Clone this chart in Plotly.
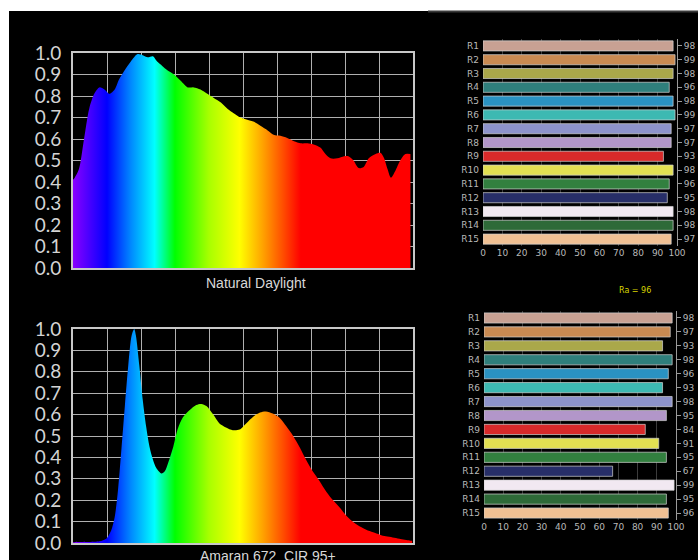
import plotly.graph_objects as go

# ---------------- data ----------------
wl_daylight = [380, 382, 387, 393, 399, 405, 411, 417, 423, 429, 434, 440, 448, 456, 462, 468, 474,
               479, 485, 491, 499, 507, 515, 522, 530, 538, 546, 554, 562, 569, 577, 585, 593, 601,
               609, 616, 624, 632, 640, 648, 656, 663, 671, 677, 683, 691, 699, 704, 710, 716, 722,
               728, 736, 742, 746, 750, 754, 759, 765, 771, 777]
rel_daylight = [0.41, 0.42, 0.46, 0.60, 0.74, 0.81, 0.84, 0.83, 0.81, 0.83, 0.876, 0.915, 0.96, 0.995,
                0.99, 0.98, 0.985, 0.96, 0.94, 0.92, 0.90, 0.87, 0.84, 0.84, 0.83, 0.81, 0.79, 0.77,
                0.74, 0.72, 0.70, 0.69, 0.68, 0.66, 0.64, 0.62, 0.615, 0.605, 0.59, 0.58, 0.58, 0.575,
                0.56, 0.53, 0.51, 0.51, 0.52, 0.52, 0.50, 0.465, 0.47, 0.51, 0.53, 0.535, 0.51, 0.46,
                0.42, 0.45, 0.50, 0.53, 0.53]

wl_amaran = [380, 382, 411, 419, 425, 429, 433, 437, 441, 445, 449, 452, 454, 458, 462, 466, 470, 474,
             478, 484, 488, 492, 498, 503, 509, 517, 525, 531, 537, 545, 552, 560, 568, 576, 584, 592,
             600, 607, 615, 623, 631, 639, 647, 654, 662, 670, 678, 686, 694, 701, 709, 717, 725, 733,
             741, 748, 756, 764, 776, 779]
rel_amaran = [0.004, 0.004, 0.008, 0.02, 0.06, 0.12, 0.25, 0.44, 0.64, 0.83, 0.97, 1.0, 0.97, 0.83,
              0.67, 0.545, 0.45, 0.39, 0.35, 0.325, 0.335, 0.375, 0.45, 0.53, 0.585, 0.62, 0.645, 0.65,
              0.64, 0.60, 0.56, 0.54, 0.527, 0.53, 0.56, 0.59, 0.61, 0.615, 0.605, 0.585, 0.545, 0.50,
              0.445, 0.39, 0.335, 0.29, 0.24, 0.20, 0.165, 0.13, 0.10, 0.078, 0.062, 0.05, 0.039,
              0.031, 0.026, 0.02, 0.012, 0.01]

r_labels = ["R1", "R2", "R3", "R4", "R5", "R6", "R7", "R8", "R9", "R10", "R11", "R12", "R13", "R14", "R15"]
r_daylight = [98, 99, 98, 96, 98, 99, 97, 97, 93, 98, 96, 95, 98, 98, 97]
r_amaran = [98, 97, 93, 98, 96, 93, 98, 95, 84, 91, 95, 67, 99, 95, 96]
r_colors = ["#c8a193", "#c98a52", "#aaa84a", "#2f7f7c", "#2a92c2", "#3db9b2", "#8d93cb", "#b296c9",
            "#d82a2a", "#e2e052", "#32803f", "#272e68", "#f1e8f1", "#2e6a38", "#f0c093"]
ra_text = "Ra = 96"
title_top = "Natural Daylight"
title_bottom = "Amaran 672  CIR 95+"

rainbow = [[0.0, "#8a00ff"], [0.10, "#0000ff"], [0.17, "#0088ff"], [0.24, "#00ffff"],
           [0.30, "#00ff00"], [0.40, "#a8ff00"], [0.49, "#ffff00"], [0.56, "#ffa000"],
           [0.62, "#ff4a00"], [0.67, "#ff0000"], [1.0, "#ff0000"]]

W, H = 698, 560
def px(x): return x / W
def py(y): return 1 - y / H

fig = go.Figure()

# spectra
for wl, rel, xa, ya in [(wl_daylight, rel_daylight, "x", "y"), (wl_amaran, rel_amaran, "x2", "y2")]:
    fig.add_trace(go.Scatter(
        x=wl, y=rel, xaxis=xa, yaxis=ya, mode="lines", fill="tozeroy",
        line=dict(width=0, shape="spline", smoothing=0.8),
        fillgradient=dict(type="horizontal", colorscale=rainbow, start=380, stop=780),
        showlegend=False, hoverinfo="skip"))

# bars
for vals, xa, ya, ya2 in [(r_daylight, "x3", "y3", "y5"), (r_amaran, "x4", "y4", "y6")]:
    fig.add_trace(go.Bar(
        x=vals, y=r_labels, orientation="h", xaxis=xa, yaxis=ya,
        marker=dict(color=r_colors, line=dict(color="rgba(210,210,210,0.7)", width=1)),
        showlegend=False, hoverinfo="skip"))
    fig.add_trace(go.Bar(
        x=vals, y=r_labels, orientation="h", xaxis=xa, yaxis=ya2,
        marker=dict(color="rgba(0,0,0,0)", line=dict(width=0)), showlegend=False, hoverinfo="skip"))

spec_font = dict(family="Lato", size=19, color="#d4d4d4")
spec_x = dict(range=[380, 780], dtick=40, tick0=380, showticklabels=False, showgrid=True,
              gridcolor="#b0b0b0", gridwidth=1, showline=True, linecolor="#c8c8c8", linewidth=2,
              mirror=True, zeroline=False, ticks="", automargin=False)
spec_y = dict(range=[0, 1], dtick=0.1, tick0=0, tickformat=".1f", showgrid=True,
              gridcolor="#b0b0b0", gridwidth=1, showline=True, linecolor="#c8c8c8", linewidth=2,
              mirror=True, zeroline=False, ticks="", tickfont=spec_font, ticklabelstandoff=6,
              automargin=False)

bar_font = dict(family="DejaVu Sans", size=9, color="#b8b8b8")
bar_x = dict(range=[0, 100], dtick=10, tick0=0, showgrid=True, gridcolor="#3c3c3c", gridwidth=1,
             zeroline=False, showline=False, tickfont=bar_font, ticks="", automargin=False)
bar_y = dict(type="category", categoryorder="array", categoryarray=r_labels, autorange="reversed",
             showgrid=False, zeroline=False, showline=False, tickfont=bar_font, ticks="",
             ticklabelstandoff=3, automargin=False)

def right_axis(vals, overlay):
    return dict(type="category", categoryorder="array", categoryarray=r_labels, autorange="reversed",
                overlaying=overlay, side="right", anchor=overlay.replace("y", "x"),
                tickmode="array", tickvals=r_labels, ticktext=[str(v) for v in vals],
                showgrid=False, zeroline=False, showline=True, linecolor="#9a9a9a", linewidth=1,
                ticks="outside", ticklen=4, tickcolor="#9a9a9a", tickfont=bar_font, automargin=False)

fig.update_layout(
    template="none",
    width=W, height=H, margin=dict(l=0, r=0, t=0, b=0, pad=0), autosize=False,
    paper_bgcolor="white", plot_bgcolor="rgba(0,0,0,0)",
    bargap=0.27,
    xaxis=dict(domain=[px(73), px(413)], anchor="y", **spec_x),
    yaxis=dict(domain=[py(268), py(53)], anchor="x", **spec_y),
    xaxis2=dict(domain=[px(73), px(413)], anchor="y2", **spec_x),
    yaxis2=dict(domain=[py(543), py(329)], anchor="x2", **spec_y),
    xaxis3=dict(domain=[px(483), px(677)], anchor="y3", **bar_x),
    yaxis3=dict(domain=[py(246), py(39)], anchor="x3", **bar_y),
    xaxis4=dict(domain=[px(484), px(676)], anchor="y4", **bar_x),
    yaxis4=dict(domain=[py(520), py(311)], anchor="x4", **bar_y),
    yaxis5=right_axis(r_daylight, "y3"),
    yaxis6=right_axis(r_amaran, "y4"),
    shapes=[
        dict(type="rect", xref="paper", yref="paper", x0=px(9), x1=1, y0=0, y1=py(11),
             fillcolor="black", line=dict(width=0), layer="below"),
        dict(type="line", xref="paper", yref="paper", x0=px(428), x1=1, y0=py(11.5), y1=py(11.5),
             line=dict(color="#3a3a3a", width=2), layer="below"),
    ],
    annotations=[
        dict(text=title_top, xref="paper", yref="paper", x=px(256), y=py(283), showarrow=False,
             xanchor="center", yanchor="middle", font=dict(family="Liberation Sans", size=14, color="#d8d8d8")),
        dict(text=title_bottom, xref="paper", yref="paper", x=px(268), y=py(546), showarrow=False,
             xanchor="center", yanchor="top", font=dict(family="Liberation Sans", size=14, color="#d8d8d8")),
        dict(text=ra_text, xref="paper", yref="paper", x=px(635), y=py(290), showarrow=False,
             xanchor="center", yanchor="middle", font=dict(family="DejaVu Sans", size=8, color="#d8d400")),
    ],
)

fig.write_html("out.html", config={"displayModeBar": False},
               post_script="document.body.style.margin='0';document.body.style.overflow='hidden';")
